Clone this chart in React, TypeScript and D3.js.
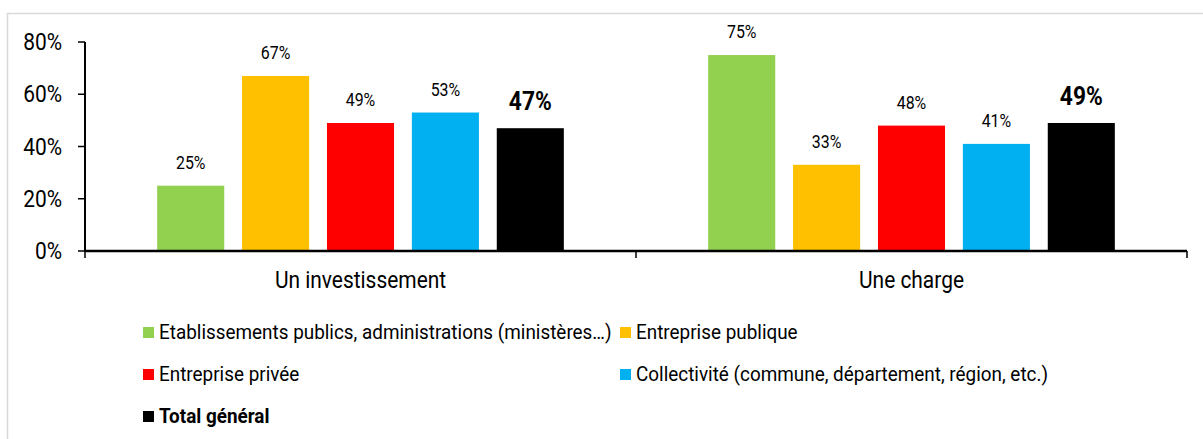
import React from "react";
import * as d3 from "d3";

const categories = ["Un investissement", "Une charge"];
const seriesNames = [
  "Etablissements publics, administrations (ministères…)",
  "Entreprise publique",
  "Entreprise privée",
  "Collectivité (commune, département, région, etc.)",
  "Total général",
];
const seriesColors = ["#92D050", "#FFC000", "#FF0000", "#00B0F0", "#000000"];
const investValues = [25, 67, 49, 53, 47];
const chargeValues = [75, 33, 48, 41, 49];
const yTicks = [0, 20, 40, 60, 80];

const W = 1203;
const H = 439;
const FONT = "Roboto, 'Liberation Sans', sans-serif";
const SX = 0.91;

function T({ x, y, size, anchor = "middle", weight = 400, sx = SX, children }: any) {
  return (
    <text
      transform={`translate(${x},${y}) scale(${sx},1)`}
      fontSize={size}
      fontWeight={weight}
      textAnchor={anchor}
      fontFamily={FONT}
      fill="#000"
    >
      {children}
    </text>
  );
}

export default function App() {
  const left = 85;
  const right = 1187;
  const top = 42;
  const bottom = 251;
  const y = d3.scaleLinear().domain([0, 80]).range([bottom, top]);
  const x0 = d3.scaleBand().domain(categories).range([left, right]).padding(0);
  const x1 = d3
    .scaleBand()
    .domain(seriesNames)
    .range([0, x0.bandwidth()])
    .paddingInner(0.21)
    .paddingOuter(0.85);
  const data = [investValues, chargeValues];

  const legendPos = [
    { x: 143, y: 339 },
    { x: 620, y: 339 },
    { x: 143, y: 381 },
    { x: 620, y: 381 },
    { x: 143, y: 423 },
  ];

  return (
    <svg
      width={W}
      height={H}
      style={{ position: "absolute", left: 0, top: 0, background: "#fff" }}
    >
      <rect x={7.5} y={13.5} width={1220} height={450} fill="#fff" stroke="#d9d9d9" strokeWidth={1.5} />
      {categories.map((c, ci) =>
        seriesNames.map((s, si) => {
          const v = data[ci][si];
          const bx = x0(c)! + x1(s)!;
          const bw = x1.bandwidth();
          const isTotal = si === 4;
          return (
            <g key={c + s}>
              <rect x={bx} y={y(v)} width={bw} height={bottom - y(v)} fill={seriesColors[si]} />
              <T
                x={bx + bw / 2}
                y={y(v) - (isTotal ? 18 : 17)}
                size={isTotal ? 25 : 17.5}
                weight={isTotal ? 700 : 400}
              >
                {v}%
              </T>
            </g>
          );
        })
      )}
      {/* y axis */}
      <line x1={left} x2={left} y1={top} y2={bottom + 1} stroke="#000" strokeWidth={2} />
      {yTicks.map((t) => (
        <g key={t}>
          <line x1={left - 7} x2={left} y1={y(t)} y2={y(t)} stroke="#000" strokeWidth={1.5} />
          <T x={62} y={y(t) + 8} size={23} anchor="end">
            {t}%
          </T>
        </g>
      ))}
      {/* x axis */}
      <line x1={left} x2={right} y1={bottom} y2={bottom} stroke="#000" strokeWidth={2.5} />
      {[left, x0(categories[1])!, right].map((tx, i) => (
        <line key={i} x1={tx} x2={tx} y1={bottom} y2={bottom + 7} stroke="#000" strokeWidth={1.5} />
      ))}
      {categories.map((c) => (
        <T key={c} x={x0(c)! + x0.bandwidth() / 2} y={288} size={23}>
          {c}
        </T>
      ))}
      {/* legend */}
      {seriesNames.map((s, i) => (
        <g key={s}>
          <rect x={legendPos[i].x} y={legendPos[i].y - 12} width={11} height={11} fill={seriesColors[i]} />
          <T x={legendPos[i].x + 16} y={legendPos[i].y} size={21} anchor="start" sx={0.9} weight={i === 4 ? 700 : 400}>
            {s}
          </T>
        </g>
      ))}
    </svg>
  );
}
